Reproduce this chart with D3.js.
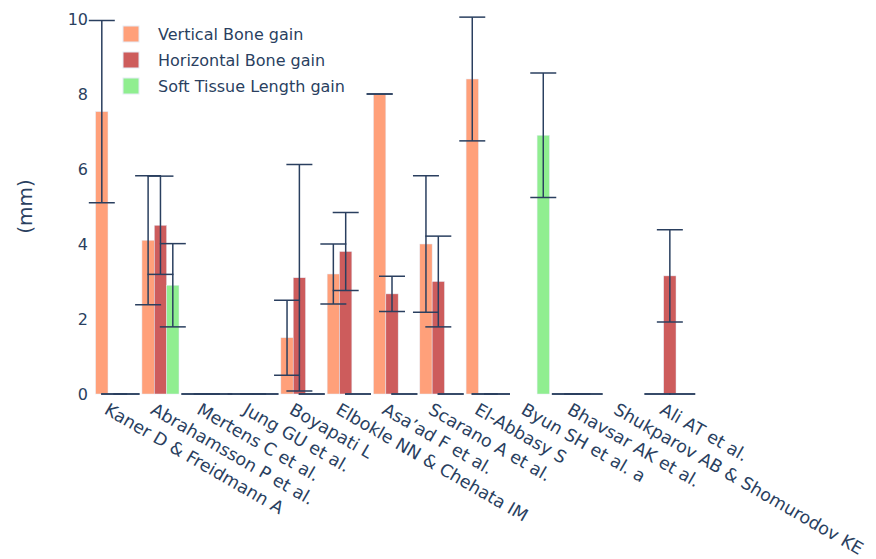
<!DOCTYPE html>
<html>
<head>
<meta charset="utf-8">
<script src="https://cdn.jsdelivr.net/npm/d3@7"></script>
<style>
  body { margin: 0; background: #fff; }
  text { font-family: "DejaVu Sans", Verdana, sans-serif; fill: #2a3f5f; }
</style>
</head>
<body>
<div id="chart"></div>
<script>
// data
const categories = ["Kaner D & Freidmann A", "Abrahamsson P et al.", "Mertens C et al.", "Jung GU et al.",
    "Boyapati L", "Elbokle NN & Chehata IM", "Asa\u2019ad F et al.", "Scarano A et al.", "El-Abbasy S",
    "Byun SH et al. a", "Bhavsar AK et al.", "Shukparov AB & Shomurodov KE", "Ali AT et al."];
const seriesNames = ["Vertical Bone gain", "Horizontal Bone gain", "Soft Tissue Length gain"];
const verticalGain = [7.53, 4.1, 0, 0, 1.5, 3.2, 8.0, 4.0, 8.4, null, 0, null, 0];
const verticalErr = [2.43, 1.72, 0, 0, 1.0, 0.8, 0, 1.82, 1.65, null, 0, null, 0];
const horizontalGain = [0, 4.5, 0, 0, 3.1, 3.8, 2.67, 3.0, 0, null, 0, null, 3.15];
const horizontalErr = [0, 1.31, 0, 0, 3.02, 1.04, 0.47, 1.21, 0, null, 0, null, 1.23];
const softGain = [0, 2.9, 0, 0, 0, 0, 0, 0, 0, 6.9, 0, null, 0];
const softErr = [0, 1.11, 0, 0, 0, 0, 0, 0, 0, 1.66, 0, null, 0];
const yTicks = [0, 2, 4, 6, 8, 10];
const colors = ["#FFA07A", "#CD5C5C", "#90EE90"];

const width = 876, height = 559;
const margin = { top: 19, left: 91, right: 183, bottom: 165 };

const svg = d3.select("#chart").append("svg")
    .attr("width", width)
    .attr("height", height);

const x0 = d3.scaleBand()
    .domain(categories)
    .range([margin.left, width - margin.right])
    .paddingInner(0.2)
    .paddingOuter(0.1);

const x1 = d3.scaleBand()
    .domain(seriesNames)
    .range([0, x0.bandwidth()]);

const y = d3.scaleLinear()
    .domain([0, 10])
    .range([height - margin.bottom, margin.top]);

const series = [
    { name: seriesNames[0], values: verticalGain, errs: verticalErr, color: colors[0] },
    { name: seriesNames[1], values: horizontalGain, errs: horizontalErr, color: colors[1] },
    { name: seriesNames[2], values: softGain, errs: softErr, color: colors[2] }
];

// y axis tick labels (no line, no grid)
const yAxis = svg.append("g")
    .attr("transform", `translate(${margin.left}, 0)`)
    .call(d3.axisLeft(y).tickValues(yTicks).tickSize(0).tickPadding(3));
yAxis.select(".domain").remove();
yAxis.selectAll("text")
    .style("font-size", "16px")
    .style("font-family", "DejaVu Sans, Verdana, sans-serif")
    .attr("fill", "#2a3f5f");

svg.append("text")
    .attr("transform", `translate(32, ${(y(0) + y(10)) / 2}) rotate(-90)`)
    .attr("text-anchor", "middle")
    .style("font-size", "20px")
    .text("(mm)");

// x tick labels, rotated 30 degrees
const xAxis = svg.append("g")
    .attr("transform", `translate(0, ${y(0)})`)
    .call(d3.axisBottom(x0).tickSize(0).tickPadding(0));
xAxis.select(".domain").remove();
xAxis.selectAll(".tick text")
    .attr("text-anchor", "start")
    .attr("x", 0)
    .attr("y", 9)
    .attr("dy", "0.75em")
    .attr("transform", "rotate(30)")
    .style("font-size", "17.4px")
    .style("font-family", "DejaVu Sans, Verdana, sans-serif")
    .attr("fill", "#2a3f5f");

// bars
const groups = svg.selectAll(".series")
    .data(series)
    .join("g")
    .attr("class", "series");

groups.selectAll("rect")
    .data(s => s.values.map((v, i) => ({ cat: categories[i], v: v, s: s })).filter(d => d.v !== null && d.v > 0))
    .join("rect")
    .attr("x", d => x0(d.cat) + x1(d.s.name))
    .attr("width", x1.bandwidth())
    .attr("y", d => y(d.v))
    .attr("height", d => y(0) - y(d.v))
    .attr("fill", d => d.s.color)
    .attr("stroke", "#E5ECF6")
    .attr("stroke-width", 0.5);

// error bars
const capHalf = 13;
const errData = [];
series.forEach(s => {
    s.values.forEach((v, i) => {
        if (v === null) return;
        errData.push({ cx: x0(categories[i]) + x1(s.name) + x1.bandwidth() / 2, lo: v - s.errs[i], hi: v + s.errs[i] });
    });
});

const errG = svg.append("g")
    .attr("stroke", "#2a3f5f")
    .attr("stroke-width", 1.5)
    .attr("fill", "none");

errData.forEach(d => {
    if (d.hi > d.lo) {
        errG.append("line")
            .attr("x1", d.cx).attr("x2", d.cx)
            .attr("y1", y(d.lo)).attr("y2", y(d.hi));
    }
    [d.lo, d.hi].forEach(v => {
        errG.append("line")
            .attr("x1", d.cx - capHalf).attr("x2", d.cx + capHalf)
            .attr("y1", y(v)).attr("y2", y(v));
    });
});

// legend
const legend = svg.append("g")
    .attr("transform", "translate(123, 26)");

const items = legend.selectAll("g")
    .data(series)
    .join("g")
    .attr("transform", (d, i) => `translate(0, ${i * 26})`);

items.append("rect")
    .attr("width", 16)
    .attr("height", 16)
    .attr("fill", d => d.color)
    .attr("stroke", "#E5ECF6")
    .attr("stroke-width", 1);

items.append("text")
    .attr("x", 35)
    .attr("y", 8)
    .attr("dy", "0.35em")
    .style("font-size", "16px")
    .text(d => d.name);
</script>
</body>
</html>
